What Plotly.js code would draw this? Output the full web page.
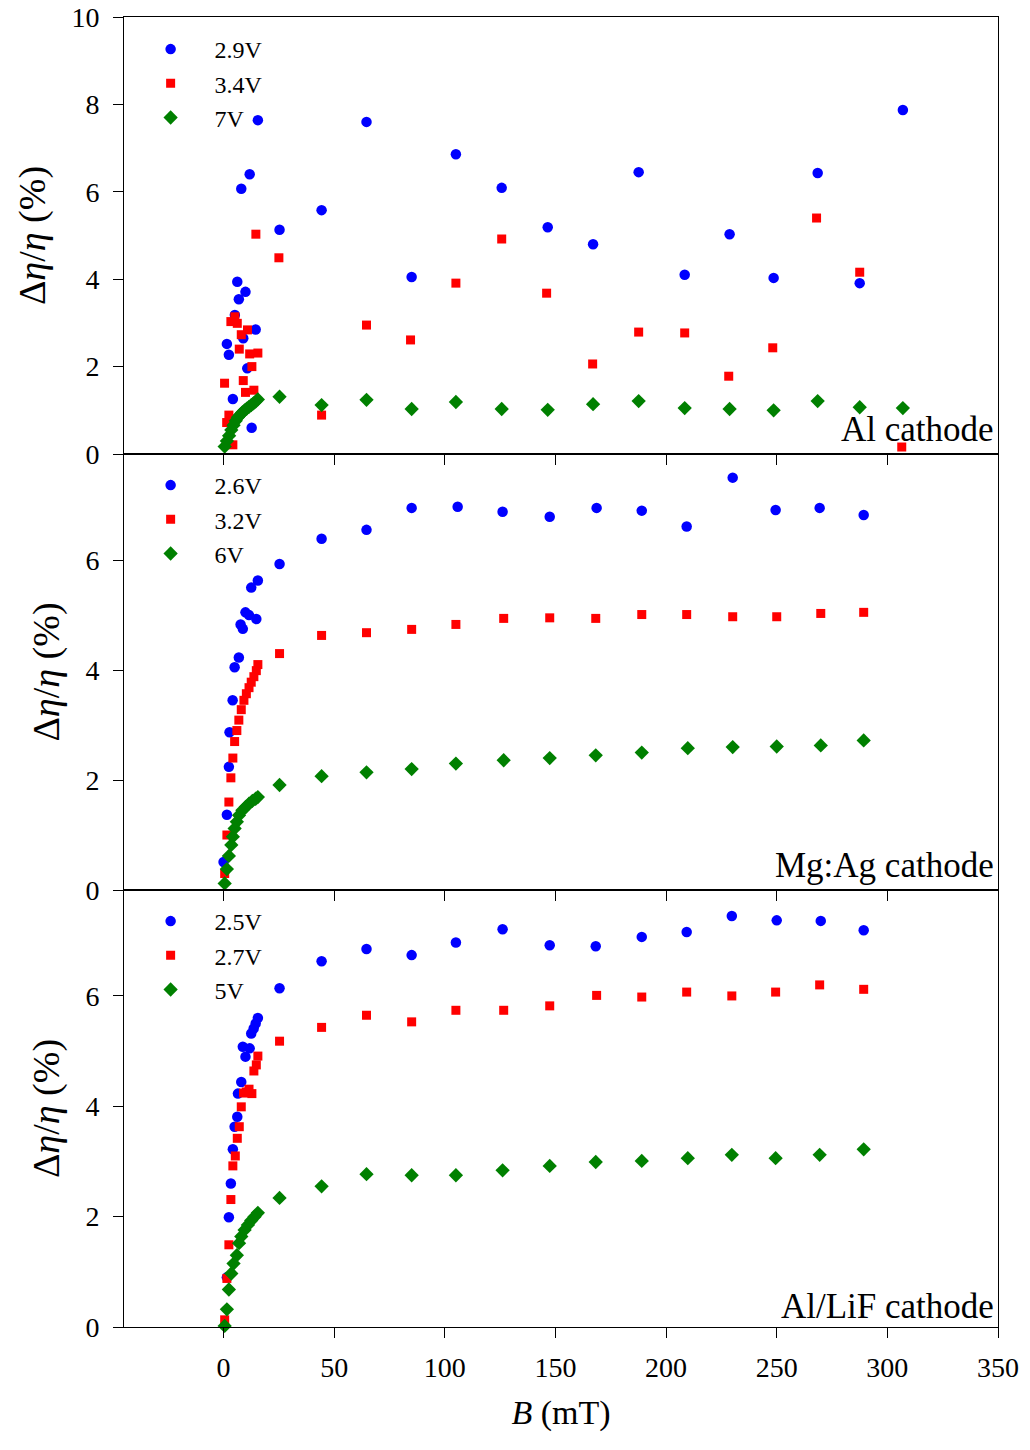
<!DOCTYPE html>
<html>
<head>
<meta charset="utf-8">
<script src="https://cdn.plot.ly/plotly-3.0.1.min.js"></script>
<style>html,body{margin:0;padding:0;background:#fff;}#chart{width:1030px;height:1450px;}</style>
</head>
<body>
<div id="chart"></div>
<script>
// ---------- Panel 1: Al cathode ----------
const alB_29 = [1.5, 2.4, 4.2, 5.1, 6.2, 6.9, 8.0, 8.9, 9.9, 10.7, 11.8, 12.7, 14.5, 15.5,
  25.3, 44.3, 64.6, 85, 105, 125.7, 146.5, 167, 187.6, 208.4, 228.7, 248.6, 268.5, 287.5, 307];
const alV_29 = [2.52, 2.27, 1.26, 3.18, 3.94, 3.54, 6.07, 2.65, 3.71, 1.96, 6.40, 0.60, 2.85, 7.64,
  5.13, 5.58, 7.60, 4.05, 6.86, 6.09, 5.19, 4.80, 6.45, 4.10, 5.03, 4.03, 6.43, 3.91, 7.87];
const alB_34 = [0.45, 1.4, 2.4, 3.3, 4.2, 5.1, 6.2, 7.1, 8.0, 8.9, 9.9, 10.8, 11.8, 12.8, 13.7, 14.6, 15.5,
  25, 44.3, 64.6, 84.5, 105, 125.7, 146, 166.8, 187.6, 208.4, 228.3, 248.2, 268, 287.5, 306.5];
const alV_34 = [1.62, 0.72, 0.89, 3.03, 0.21, 3.14, 2.99, 2.40, 2.73, 1.68, 1.41, 2.84, 2.29, 2.00, 1.46, 5.03, 2.31,
  4.49, 0.89, 2.95, 2.61, 3.91, 4.92, 3.68, 2.06, 2.79, 2.77, 1.78, 2.43, 5.40, 4.16, 0.16];
const alB_7 = [0.5, 1.5, 2.5, 3.5, 4.5, 5.5, 6.5, 7.5, 8.5, 9.5, 10.5, 11.5, 12.5, 13.5, 14.5, 15.5,
  25.3, 44.3, 64.6, 85, 105, 125.7, 146.5, 167, 187.6, 208.4, 228.7, 248.6, 268.5, 287.5, 307];
const alV_7 = [0.17, 0.30, 0.42, 0.55, 0.66, 0.76, 0.84, 0.90, 0.95, 1.00, 1.04, 1.08, 1.12, 1.16, 1.20, 1.25,
  1.31, 1.12, 1.24, 1.03, 1.19, 1.03, 1.01, 1.14, 1.21, 1.05, 1.03, 1.00, 1.21, 1.07, 1.05];

// ---------- Panel 2: Mg:Ag cathode ----------
const mgB_26 = [0, 1.5, 2.4, 2.7, 4.1, 5.0, 6.9, 7.7, 8.7, 9.9, 11.5, 12.5, 14.8, 15.5,
  25.3, 44.3, 64.6, 85, 105.8, 126.1, 147.4, 168.6, 189, 209.3, 230.1, 249.5, 269.4, 289.3];
const mgV_26 = [0.51, 1.37, 2.24, 2.87, 3.45, 4.05, 4.23, 4.83, 4.75, 5.05, 5.00, 5.50, 4.93, 5.63,
  5.93, 6.39, 6.55, 6.95, 6.97, 6.88, 6.79, 6.95, 6.90, 6.61, 7.50, 6.91, 6.95, 6.82];
const mgB_32 = [0.5, 1.5, 2.4, 3.3, 4.2, 5.0, 6.0, 6.9, 8.0, 9.2, 10.3, 11.5, 12.5, 13.7, 14.8, 15.5,
  25.3, 44.3, 64.6, 85, 105, 126.6, 147.4, 168.2, 189, 209.3, 230.1, 250, 269.9, 289.3];
const mgV_32 = [0.30, 1.00, 1.60, 2.04, 2.40, 2.70, 2.90, 3.09, 3.28, 3.45, 3.57, 3.68, 3.78, 3.88, 3.99, 4.10,
  4.30, 4.63, 4.68, 4.74, 4.83, 4.94, 4.95, 4.94, 5.01, 5.01, 4.97, 4.97, 5.03, 5.05];
const mgB_6 = [0.5, 1.5, 2.4, 3.5, 4.2, 5.0, 6.0, 7.0, 8.5, 10.0, 11.5, 13.0, 14.5, 15.5,
  25.3, 44.3, 64.6, 85, 105, 126.6, 147.4, 168.2, 189, 209.8, 230.1, 250, 269.9, 289.3];
const mgV_6 = [0.12, 0.38, 0.62, 0.82, 0.97, 1.12, 1.24, 1.36, 1.45, 1.51, 1.57, 1.62, 1.66, 1.69,
  1.91, 2.07, 2.14, 2.20, 2.30, 2.36, 2.40, 2.45, 2.50, 2.58, 2.60, 2.61, 2.63, 2.72];

// ---------- Panel 3: Al/LiF cathode ----------
const lifB_25 = [1.5, 2.4, 3.3, 4.2, 5.0, 6.2, 6.5, 8.0, 8.7, 9.9, 11.8, 12.5, 13.6, 14.5, 15.5,
  25.3, 44.3, 64.6, 85, 105, 126.1, 147.4, 168.2, 189, 209.3, 229.7, 250, 269.9, 289.3];
const lifV_25 = [0.90, 1.99, 2.60, 3.22, 3.63, 3.81, 4.23, 4.44, 5.08, 4.90, 5.05, 5.32, 5.41, 5.50, 5.60,
  6.14, 6.63, 6.85, 6.74, 6.97, 7.21, 6.92, 6.90, 7.07, 7.16, 7.45, 7.37, 7.36, 7.19];
const lifB_27 = [0.5, 1.5, 2.4, 3.3, 4.2, 5.3, 6.2, 7.1, 8.0, 9.0, 10.3, 11.5, 12.8, 13.7, 14.8, 15.5,
  25.3, 44.3, 64.6, 85, 105, 126.6, 147.4, 168.6, 189, 209.3, 229.7, 249.5, 269.4, 289.3];
const lifV_27 = [0.13, 0.88, 1.49, 2.31, 2.92, 3.10, 3.42, 3.63, 3.99, 4.24, 4.26, 4.31, 4.23, 4.64, 4.75, 4.91,
  5.18, 5.43, 5.65, 5.53, 5.74, 5.74, 5.82, 6.01, 5.98, 6.07, 6.00, 6.07, 6.20, 6.12];
const lifB_5 = [0.5, 1.5, 2.4, 3.5, 4.5, 6.0, 7.0, 8.0, 9.5, 11.0, 12.5, 14.0, 15.5,
  25.3, 44.3, 64.6, 85, 105, 126.1, 147.4, 168.2, 189, 209.8, 229.7, 249.5, 269.4, 289.3];
const lifV_5 = [0.02, 0.32, 0.68, 0.97, 1.15, 1.30, 1.52, 1.64, 1.76, 1.85, 1.93, 2.00, 2.07,
  2.34, 2.55, 2.77, 2.75, 2.75, 2.84, 2.92, 2.99, 3.01, 3.06, 3.12, 3.06, 3.12, 3.22];

const panelLabels = ['Al cathode', 'Mg:Ag cathode', 'Al/LiF cathode'];
const seriesNames = [['2.9V', '3.4V', '7V'], ['2.6V', '3.2V', '6V'], ['2.5V', '2.7V', '5V']];
const xTicks = [0, 50, 100, 150, 200, 250, 300, 350];

const FONT = '"Liberation Serif", "Times New Roman", serif';
const colors = ['#0000ff', '#ff0000', '#008000'];
const symbols = ['circle', 'square', 'diamond'];
const sizes = [10.5, 9, 11];

const panelData = [
  [[alB_29, alV_29], [alB_34, alV_34], [alB_7, alV_7]],
  [[mgB_26, mgV_26], [mgB_32, mgV_32], [mgB_6, mgV_6]],
  [[lifB_25, lifV_25], [lifB_27, lifV_27], [lifB_5, lifV_5]]
];

const traces = [];
panelData.forEach((panel, p) => {
  panel.forEach((s, k) => {
    traces.push({
      type: 'scatter', mode: 'markers',
      x: s[0], y: s[1],
      name: seriesNames[p][k],
      xaxis: p === 0 ? 'x' : 'x' + (p + 1),
      yaxis: p === 0 ? 'y' : 'y' + (p + 1),
      legend: p === 0 ? 'legend' : 'legend' + (p + 1),
      marker: {color: colors[k], symbol: symbols[k], size: sizes[k], line: {width: 0}},
      cliponaxis: false
    });
  });
});

// plot area: x 124..998 px, y 17..1327 px
const H = 1310;
const pxToPaperY = (py) => (1327 - py) / H;
const d3 = [0, pxToPaperY(890)];
const d2 = [pxToPaperY(890), pxToPaperY(454)];
const d1 = [pxToPaperY(454), 1];

function xAxis(showLabels, anchor) {
  return {
    range: [-45, 350], tickvals: xTicks, ticks: 'outside', ticklen: 10, tickwidth: 1, tickcolor: '#000',
    showline: true, linecolor: '#000', linewidth: 1, mirror: true, showgrid: false, zeroline: false,
    showticklabels: showLabels, anchor: anchor,
    tickfont: {family: FONT, size: 28, color: '#000'}, ticklabelstandoff: 5
  };
}
function yAxis(domain, range, tickvals, anchor) {
  return {
    domain: domain, range: range, tickvals: tickvals, ticks: 'outside', ticklen: 10, tickwidth: 1, tickcolor: '#000',
    showline: true, linecolor: '#000', linewidth: 1, mirror: true, showgrid: false, zeroline: false,
    anchor: anchor, ticklabelstandoff: 8,
    tickfont: {family: FONT, size: 28, color: '#000'},
    title: {text: 'Δ<i>η</i>/<i>η</i> (%)', font: {family: FONT, size: 38, color: '#000'}, standoff: 14}
  };
}

const legendBase = {
  xref: 'paper', yref: 'paper', x: 0.003, xanchor: 'left', yanchor: 'top',
  bgcolor: 'rgba(0,0,0,0)', borderwidth: 0, itemwidth: 78,
  font: {family: FONT, size: 24, color: '#000'}, tracegroupgap: 0
};

const layout = {
  width: 1030, height: 1450,
  margin: {l: 124, r: 32, t: 17, b: 123},
  paper_bgcolor: '#fff', plot_bgcolor: '#fff',
  showlegend: true,
  font: {family: FONT, color: '#000'},
  xaxis: xAxis(false, 'y'),
  xaxis2: Object.assign(xAxis(false, 'y2'), {matches: 'x'}),
  xaxis3: Object.assign(xAxis(true, 'y3'), {matches: 'x',
    title: {text: '<i>B</i> (mT)', font: {family: FONT, size: 34, color: '#000'}, standoff: 18}}),
  yaxis: yAxis(d1, [0, 10], [0, 2, 4, 6, 8, 10], 'x'),
  yaxis2: yAxis(d2, [0, 7.93], [0, 2, 4, 6], 'x2'),
  yaxis3: yAxis(d3, [0, 7.92], [0, 2, 4, 6], 'x3'),
  legend: Object.assign({}, legendBase, {y: pxToPaperY(27)}),
  legend2: Object.assign({}, legendBase, {y: pxToPaperY(463)}),
  legend3: Object.assign({}, legendBase, {y: pxToPaperY(899)}),
  annotations: [
    {text: panelLabels[0], xref: 'paper', yref: 'paper', x: 0.998, y: pxToPaperY(429), xanchor: 'right', yanchor: 'middle', showarrow: false, font: {family: FONT, size: 35, color: '#000'}},
    {text: panelLabels[1], xref: 'paper', yref: 'paper', x: 0.998, y: pxToPaperY(865), xanchor: 'right', yanchor: 'middle', showarrow: false, font: {family: FONT, size: 35, color: '#000'}},
    {text: panelLabels[2], xref: 'paper', yref: 'paper', x: 0.998, y: pxToPaperY(1306), xanchor: 'right', yanchor: 'middle', showarrow: false, font: {family: FONT, size: 35, color: '#000'}}
  ]
};

Plotly.newPlot('chart', traces, layout, {staticPlot: true, displayModeBar: false});
</script>
</body>
</html>
